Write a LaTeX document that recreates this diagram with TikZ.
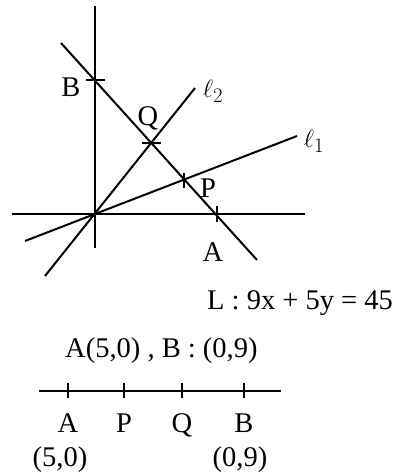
\documentclass[tikz,border=0pt]{standalone}
\usepackage{fontspec}
\setmainfont{Liberation Serif}
\usetikzlibrary{positioning}

\begin{document}
\begin{tikzpicture}[
        x=1pt, y=-1pt,
        line/.style={line width=2pt, black},
        lbl/.style={inner sep=0pt, font=\fontsize{28.5}{33}\selectfont},
        txt/.style={inner sep=0pt, anchor=base west, font=\fontsize{28.5}{33}\selectfont}
    ]
    \useasboundingbox (0,0) rectangle (398,474);

    % Ejes
    \coordinate (O) at (95,214);
    \coordinate (ytop) at (95,6);
    \coordinate (ybot) at (95,248);
    \coordinate (xleft) at (12,214);
    \coordinate (xright) at (305,214);
    \draw[line] (ytop) -- (ybot);
    \draw[line] (xleft) -- (xright);

    % Rectas
    \coordinate (B) at (95,80);
    \coordinate (A) at (217,214);
    \coordinate (Q) at (151,143);
    \coordinate (P) at (184,180);
    \coordinate (Lstart) at (61,43);
    \coordinate (Lend) at (257,260);
    \coordinate (ltwostart) at (45,276);
    \coordinate (ltwoend) at (195,88);
    \coordinate (lonestart) at (25,241);
    \coordinate (loneend) at (297,136);
    \draw[line] (Lstart) -- (Lend);
    \draw[line] (ltwostart) -- (ltwoend);
    \draw[line] (lonestart) -- (loneend);

    % Marcas
    \draw[line] (B) ++(-9,0) -- ++(19,0);
    \draw[line] (Q) ++(-9,0) -- ++(19,0);
    \draw[line] (A) ++(0,-8) -- ++(0,16);
    \draw[line] (P) ++(0,-7) -- ++(0,15);

    % Etiquetas
    \node[lbl] (labB) at (71,87) {B};
    \node[lbl] (labQ) at (148,118) {Q};
    \node[lbl] (labP) at (208,188) {P};
    \node[lbl] (labA) at (213,252) {A};
    \node[lbl] (labltwo) at (213,91) {$\ell_2$};
    \node[lbl] (labline) at (314,141) {$\ell_1$};

    % Texto
    \node[txt] (eqL) at (207,309) {L : 9x + 5y = 45};
    \node[txt] (pts) at (65,357) {A(5,0) , B : (0,9)};

    % Recta numerica
    \coordinate (nleft) at (39,391);
    \coordinate (nright) at (281,391);
    \draw[line] (nleft) -- (nright);
    \foreach \name/\xpos in {A/68, P/124, Q/182, B/244} {
        \draw[line] (\xpos,383) -- (\xpos,398);
        \node[lbl, anchor=base] (n\name) at (\xpos,432) {\name};
    }
    \node[lbl, anchor=base] (cA) at (60,466) {(5,0)};
    \node[lbl, anchor=base] (cB) at (240,466) {(0,9)};

\end{tikzpicture}
\end{document}
